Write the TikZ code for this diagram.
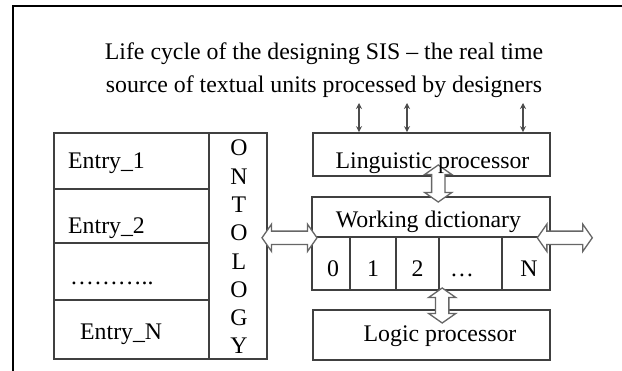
\documentclass[tikz,border=0pt]{standalone}
\usepackage{fontspec}
\setmainfont{Liberation Serif}
\usetikzlibrary{shapes.arrows,arrows.meta,calc}

\begin{document}
\begin{tikzpicture}
    [x=1pt,y=-1pt,
     box/.style={draw=black!75,line width=1.6pt,inner sep=0pt},
     txt/.style={inner sep=0pt,font=\fontsize{23.8}{28.3}\selectfont},
     blk/.style={double arrow,draw=black!60,fill=white,line width=1.3pt,inner sep=6pt,
        double arrow head extend=7pt,double arrow tip angle=110,minimum width=1pt},
     sarr/.style={{Stealth[length=6pt,width=6pt]}-{Stealth[length=6pt,width=6pt]},draw=black!70,line width=1.2pt}]
    \useasboundingbox (0,0) rectangle (622,371);
    \coordinate (F0) at (13,6);
    \coordinate (F1) at (622,6);
    \coordinate (F2) at (13,371);
    \draw[line width=1.8pt] (F1) -- (F0) -- (F2);

    \node[txt,anchor=base] (T1) at (324,59.5) {Life cycle of the designing SIS – the real time};
    \node[txt,anchor=base] (T2) at (324,92.5) {source of textual units processed by designers};

    \node[box,minimum width=155pt,minimum height=56pt] (E1) at (131.5,161) {};
    \node[box,minimum width=155pt,minimum height=54pt] (E2) at (131.5,216) {};
    \node[box,minimum width=155pt,minimum height=57pt] (E3) at (131.5,271.5) {};
    \node[box,minimum width=155pt,minimum height=59pt] (E4) at (131.5,329.5) {};
    \node[box,minimum width=58pt,minimum height=226pt] (ON) at (238,246) {};

    \node[box,minimum width=237pt,minimum height=43pt] (LP) at (431.5,154.5) {};
    \node[box,minimum width=238pt,minimum height=40pt] (WD) at (431,217) {};
    \node[box,minimum width=38pt,minimum height=53pt] (C0) at (331,263.5) {};
    \node[box,minimum width=46pt,minimum height=53pt] (C1) at (373,263.5) {};
    \node[box,minimum width=43pt,minimum height=53pt] (C2) at (417.5,263.5) {};
    \node[box,minimum width=63pt,minimum height=53pt] (C3) at (470.5,263.5) {};
    \node[box,minimum width=48pt,minimum height=53pt] (C4) at (526,263.5) {};
    \node[box,minimum width=237pt,minimum height=50pt] (LG) at (431.5,335) {};

    \coordinate (A1) at (359,103);
    \coordinate (A2) at (407,103);
    \coordinate (A3) at (523,103);
    \draw[sarr] (A1) -- (A1 |- LP.north);
    \draw[sarr] (A2) -- (A2 |- LP.north);
    \draw[sarr] (A3) -- (A3 |- LP.north);

    \node[blk,minimum height=55pt] (H1) at ($(ON.east |- WD.south)!0.5!(WD.south west)$) {};
    \node[blk,minimum height=55pt] (H2) at ([xshift=14pt]WD.south east) {};
    \node[blk,rotate=90,minimum height=37pt] (V1) at ([xshift=7pt,yshift=3pt]$(LP.south)!0.5!(WD.north)$) {};
    \node[blk,rotate=90,minimum height=35pt] (V2) at ([xshift=4pt,yshift=-5.5pt]$(C3.south west)!0.5!(C3.south west |- LG.north)$) {};

    \node[txt,anchor=base west] (N1) at (68,169) {Entry\_1};
    \node[txt,anchor=base west] (N2) at (68,234) {Entry\_2};
    \node[txt,anchor=base west] (N3) at (70,285) {………..};
    \node[txt,anchor=base west] (N4) at (80,340) {Entry\_N};
    \node[txt,align=center] (NO) at (239,247) {O\\N\\T\\O\\L\\O\\G\\Y};

    \node[txt,anchor=base] (NL) at (432.5,169) {Linguistic processor};
    \node[txt,anchor=base] (NW) at (428.5,228) {Working dictionary};
    \node[txt,anchor=base] (K0) at (333,277) {0};
    \node[txt,anchor=base] (K1) at (373,277) {1};
    \node[txt,anchor=base] (K2) at (417.5,277) {2};
    \node[txt,anchor=base] (K3) at (462,277) {…};
    \node[txt,anchor=base] (K4) at (529,277) {N};
    \node[txt,anchor=base] (NG) at (440,342) {Logic processor};
\end{tikzpicture}
\end{document}
